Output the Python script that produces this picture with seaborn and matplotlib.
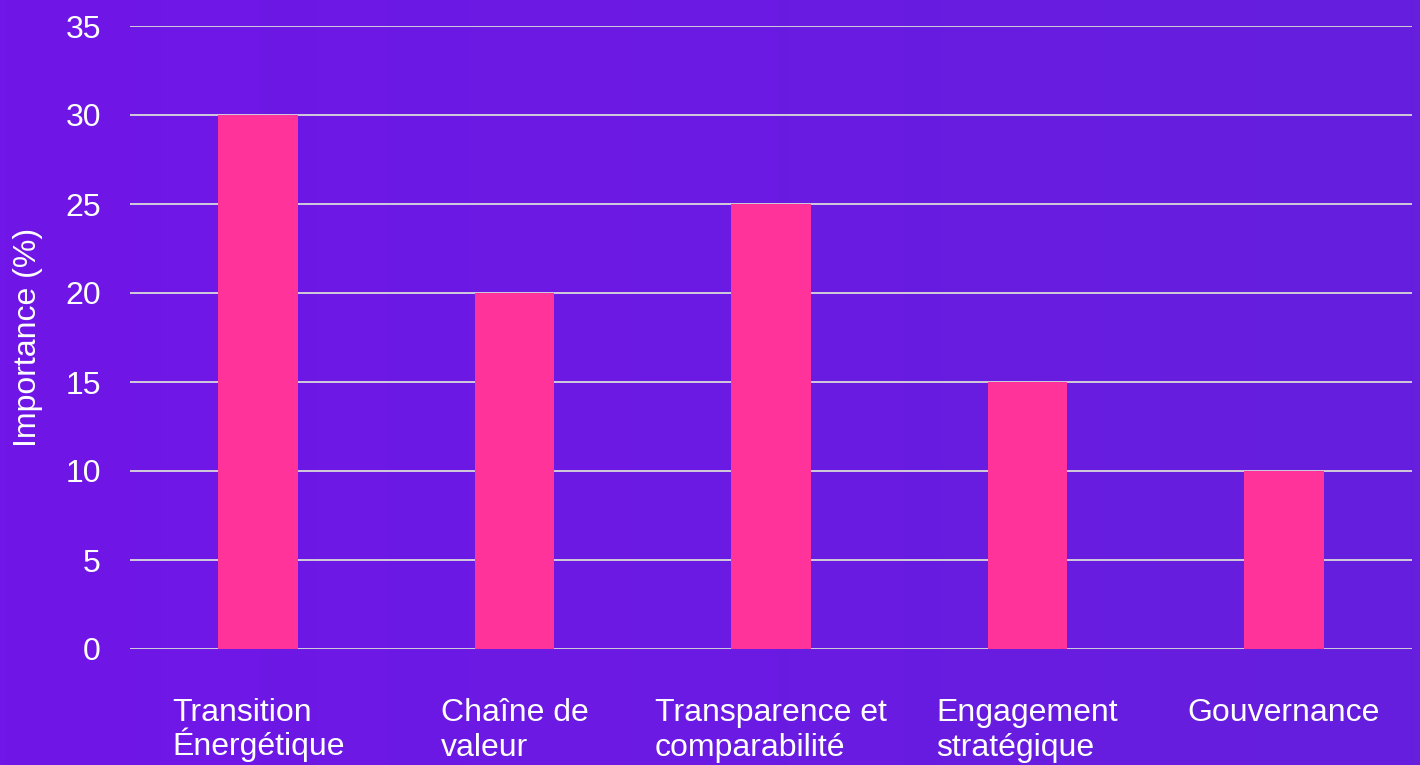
import numpy as np
import pandas as pd
import matplotlib
matplotlib.use("Agg")
import matplotlib.pyplot as plt
import matplotlib.colors as mcolors
import seaborn as sns

#--------------------------------Data----------------------------#
categories = ["Transition\nÉnergétique", "Chaîne de\nvaleur", "Transparence et\ncomparabilité",
              "Engagement\nstratégique", "Gouvernance"]
importance = [30, 20, 25, 15, 10]
yticks = [0, 5, 10, 15, 20, 25, 30, 35]

df = pd.DataFrame({"categorie": categories, "importance": importance})

#--------------------------------Style----------------------------#
sns.set_theme(style="white")
plt.rcParams['font.family'] = ['Liberation Sans', 'DejaVu Sans']

bar_color = "#FF3399"
grid_color = "#D9D9D9"
bg_left = "#7016E8"
bg_right = "#651FDD"
fsize = 23

fig = plt.figure(figsize=(14.2, 7.65), dpi=100)

# gradient background
bg_ax = fig.add_axes([0, 0, 1, 1], zorder=-10)
cmap = mcolors.LinearSegmentedColormap.from_list("bg", [bg_left, bg_right])
bg_ax.imshow(np.linspace(0, 1, 256).reshape(1, -1), cmap=cmap, aspect="auto",
             extent=[0, 1, 0, 1])
bg_ax.axis("off")

ax = fig.add_axes([130 / 1420, 1 - 649 / 765, 1282 / 1420, (649 - 26) / 765])
ax.set_facecolor("none")

sns.barplot(data=df, x="categorie", y="importance", color=bar_color,
            width=0.31, saturation=1, ax=ax, zorder=3, edgecolor="none", linewidth=0)

ax.set_ylim(0, 35)
ax.set_yticks(yticks)
ax.set_xlim(-0.5, len(categories) - 0.5)
for y in yticks:
    ax.axhline(y, color=grid_color, lw=1.3, zorder=1)

for s in ax.spines.values():
    s.set_visible(False)

ax.tick_params(axis="y", colors="white", labelsize=fsize, length=0, pad=21)
ax.tick_params(axis="x", colors="white", labelsize=fsize, length=0, pad=35)
for lbl in ax.get_xticklabels():
    lbl.set_multialignment("left")
    lbl.set_verticalalignment("top")
    # accented capital on 2nd line makes matplotlib push it down, compensate
    if "É" in lbl.get_text().split("\n")[-1]:
        lbl.set_linespacing(0.98)
    else:
        lbl.set_linespacing(1.22)

ax.set_xlabel("")
ax.set_ylabel("Importance (%)", color="white", fontsize=fsize, labelpad=16)

fig.savefig("out.png", dpi=100)
